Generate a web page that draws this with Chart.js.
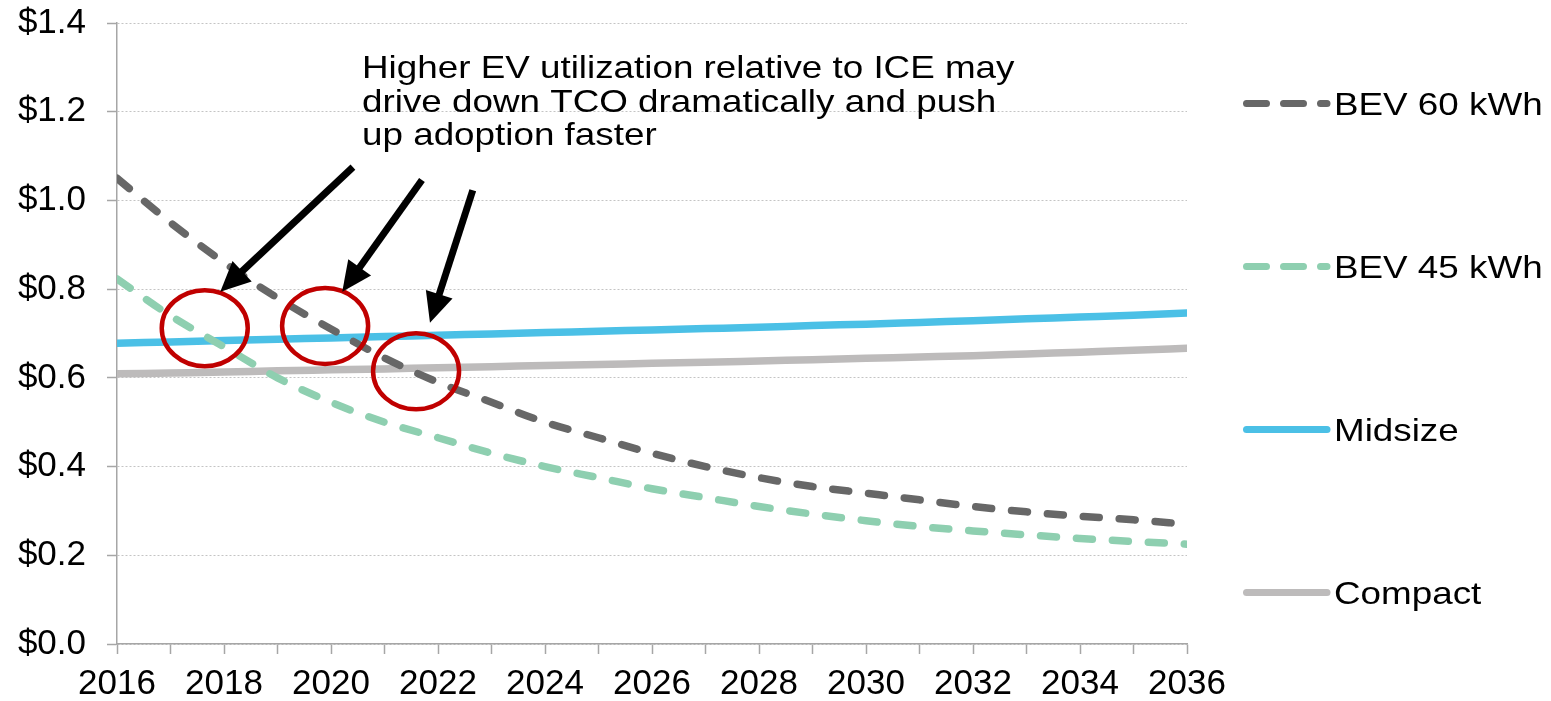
<!DOCTYPE html>
<html>
<head>
<meta charset="utf-8">
<title>TCO per mile</title>
<script src="https://cdn.jsdelivr.net/npm/chart.js@4/dist/chart.umd.min.js"></script>
<style>
  html, body { margin: 0; padding: 0; background: #ffffff; overflow: hidden; }
  #wrap { width: 1551px; height: 701px; position: relative; }
</style>
</head>
<body>
<div id="wrap"><canvas id="tco" width="1551" height="701"></canvas></div>
<script>
// Cost of ownership per mile, by year
const years = [2016, 2017, 2018, 2019, 2020, 2021, 2022, 2023, 2024, 2025, 2026,
               2027, 2028, 2029, 2030, 2031, 2032, 2033, 2034, 2035, 2036];
const bev60 = [1.05, 0.95, 0.86, 0.78, 0.71, 0.645, 0.59, 0.545, 0.50, 0.465, 0.43,
               0.40, 0.375, 0.355, 0.34, 0.325, 0.31, 0.298, 0.288, 0.28, 0.27];
const bev45 = [0.823, 0.74, 0.67, 0.60, 0.545, 0.50, 0.465, 0.43, 0.40, 0.375, 0.35,
               0.33, 0.31, 0.293, 0.278, 0.265, 0.255, 0.246, 0.238, 0.231, 0.225];
const midsize = [0.678, 0.681, 0.684, 0.687, 0.690, 0.693, 0.696, 0.699, 0.702, 0.705, 0.708,
                 0.711, 0.714, 0.718, 0.721, 0.725, 0.729, 0.733, 0.737, 0.741, 0.746];
const compact = [0.609, 0.611, 0.613, 0.616, 0.618, 0.620, 0.623, 0.625, 0.628, 0.630, 0.633,
                 0.635, 0.638, 0.641, 0.644, 0.647, 0.650, 0.654, 0.658, 0.662, 0.667];
const seriesNames = ['BEV 60 kWh', 'BEV 45 kWh', 'Midsize', 'Compact'];
const yTickValues = [0, 0.2, 0.4, 0.6, 0.8, 1.0, 1.2, 1.4];
const xLabelYears = [2016, 2018, 2020, 2022, 2024, 2026, 2028, 2030, 2032, 2034, 2036];
const noteLines = [
  'Higher EV utilization relative to ICE may',
  'drive down TCO dramatically and push',
  'up adoption faster'
];

const FONT = "'Liberation Sans', Arial, Helvetica, sans-serif";
const STRETCH = 1.15;   // wide-set lettering used for the note and legend

const styles = [
  { color: '#676767', dash: [16, 20] },
  { color: '#8ecfb0', dash: [16, 20] },
  { color: '#4bc0e6', dash: [] },
  { color: '#bdbbbb', dash: [] }
];

const toPoints = arr => arr.map((v, i) => ({ x: years[i], y: v }));
const seriesData = [bev60, bev45, midsize, compact];

// Callout rings and arrows, placed in data units
const rings = [
  { year: 2017.64, value: 0.712 },
  { year: 2019.89, value: 0.717 },
  { year: 2021.59, value: 0.615 }
];
const arrows = [
  { from: [2020.41, 1.075], to: [2017.93, 0.794] },
  { from: [2021.70, 1.046], to: [2020.21, 0.794] },
  { from: [2022.65, 1.023], to: [2021.85, 0.724] }
];

function stretchedText(ctx, text, x, y) {
  ctx.save();
  ctx.translate(x, y);
  ctx.scale(STRETCH, 1);
  ctx.fillText(text, 0, 0);
  ctx.restore();
}

const calloutPlugin = {
  id: 'callouts',
  afterDatasetsDraw(chart) {
    const { ctx, scales: { x, y } } = chart;
    ctx.save();
    // red rings around the crossover points
    ctx.strokeStyle = '#c00000';
    ctx.lineWidth = 4.5;
    rings.forEach(r => {
      ctx.beginPath();
      ctx.ellipse(x.getPixelForValue(r.year), y.getPixelForValue(r.value), 43, 38, 0, 0, Math.PI * 2);
      ctx.stroke();
    });
    // arrows from the note down to the rings
    ctx.strokeStyle = '#000';
    ctx.fillStyle = '#000';
    ctx.lineWidth = 7;
    ctx.lineCap = 'butt';
    arrows.forEach(a => {
      const x0 = x.getPixelForValue(a.from[0]), y0 = y.getPixelForValue(a.from[1]);
      const x1 = x.getPixelForValue(a.to[0]), y1 = y.getPixelForValue(a.to[1]);
      const ang = Math.atan2(y1 - y0, x1 - x0);
      const headLen = 30, headHalf = 14;
      const bx = x1 - Math.cos(ang) * headLen, by = y1 - Math.sin(ang) * headLen;
      ctx.beginPath();
      ctx.moveTo(x0, y0);
      ctx.lineTo(bx + Math.cos(ang) * 2, by + Math.sin(ang) * 2);
      ctx.stroke();
      ctx.beginPath();
      ctx.moveTo(x1, y1);
      ctx.lineTo(bx + Math.sin(ang) * headHalf, by - Math.cos(ang) * headHalf);
      ctx.lineTo(bx - Math.sin(ang) * headHalf, by + Math.cos(ang) * headHalf);
      ctx.closePath();
      ctx.fill();
    });
    ctx.restore();
  },
  afterDraw(chart) {
    const { ctx, scales: { x } } = chart;
    ctx.save();
    ctx.fillStyle = '#000';
    ctx.textAlign = 'left';
    ctx.textBaseline = 'alphabetic';
    ctx.font = '32px ' + FONT;
    // note above the crossovers
    const noteX = x.getPixelForValue(2020.58);
    noteLines.forEach((line, i) => stretchedText(ctx, line, noteX, 78 + i * 33.5));

    // legend on the right, one entry per dataset
    chart.data.datasets.forEach((ds, i) => {
      const ly = 103.5 + i * 163;
      ctx.save();
      ctx.strokeStyle = ds.borderColor;
      ctx.lineWidth = 7;
      ctx.lineCap = 'round';
      ctx.setLineDash(ds.borderDash && ds.borderDash.length ? [20, 17] : []);
      ctx.beginPath();
      ctx.moveTo(1246.5, ly);
      ctx.lineTo(1327, ly);
      ctx.stroke();
      ctx.restore();
      stretchedText(ctx, ds.label, 1334, ly + 11.5);
    });
    ctx.restore();
  }
};

new Chart(document.getElementById('tco'), {
  type: 'line',
  data: {
    datasets: seriesNames.map((name, i) => ({
      label: name,
      data: toPoints(seriesData[i]),
      borderColor: styles[i].color,
      backgroundColor: styles[i].color,
      borderDash: styles[i].dash,
      borderWidth: 7.5,
      borderCapStyle: 'round',
      borderJoinStyle: 'round',
      cubicInterpolationMode: 'monotone',
      pointRadius: 0,
      fill: false
    }))
  },
  options: {
    responsive: false,
    animation: false,
    devicePixelRatio: 1,
    layout: { padding: { top: 23, right: 364, bottom: 0, left: 0 } },
    plugins: { legend: { display: false }, tooltip: { enabled: false } },
    scales: {
      x: {
        type: 'linear',
        min: 2016,
        max: 2036,
        afterFit(scale) { scale.height = 57; },
        afterBuildTicks(scale) { scale.ticks = years.map(v => ({ value: v })); },
        ticks: {
          autoSkip: false,
          maxRotation: 0,
          padding: 9,
          color: '#000',
          font: { family: FONT, size: 35 },
          callback: v => (xLabelYears.includes(v) ? String(v) : '')
        },
        grid: { drawOnChartArea: false, drawTicks: true, tickLength: 10, tickColor: '#a6a6a6', tickWidth: 1.5 },
        border: { display: true, color: '#a6a6a6', width: 1.5 }
      },
      y: {
        min: 0,
        max: 1.4,
        afterFit(scale) {
          scale.width = 117;
          scale.paddingTop = 0;
          scale.paddingBottom = 0;
        },
        afterBuildTicks(scale) { scale.ticks = yTickValues.map(v => ({ value: v })); },
        ticks: {
          padding: 21,
          color: '#000',
          font: { family: FONT, size: 35 },
          callback: v => '$' + Number(v).toFixed(1)
        },
        grid: { color: '#c4c4c4', lineWidth: 1, drawTicks: true, tickLength: 10, tickColor: '#a6a6a6', tickWidth: 1.5 },
        border: { display: true, color: '#a6a6a6', width: 1.5, dash: [2, 2] }
      }
    }
  },
  plugins: [calloutPlugin]
});
</script>
</body>
</html>
